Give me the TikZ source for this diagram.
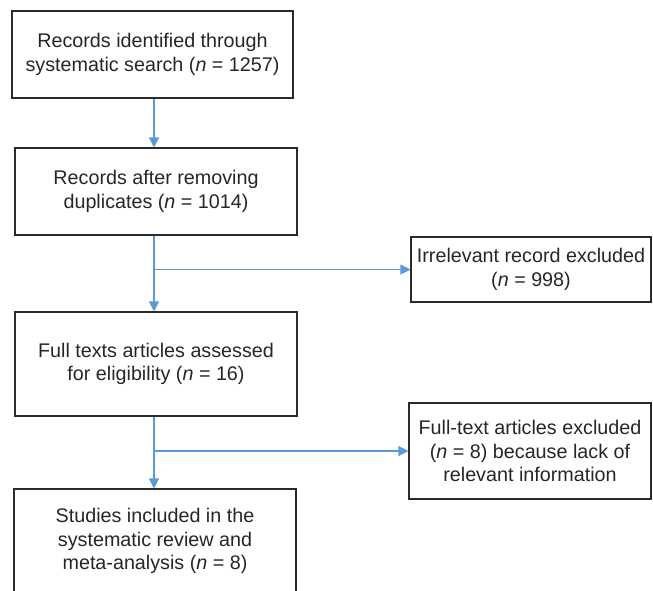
\documentclass[tikz,border=0pt]{standalone}
\usepackage{fontspec}
\setmainfont{Liberation Sans}
\usetikzlibrary{arrows.meta}
\definecolor{arrowblue}{HTML}{5B9BD5}
\definecolor{boxline}{HTML}{2B2B2B}
\begin{document}
\begin{tikzpicture}[x=0.75pt,y=-0.75pt,
  box/.style={draw=boxline, line width=0.8pt, align=center, inner sep=0pt,
    font=\fontsize{14.8}{17.6}\selectfont, text=black!85},
  conn/.style={draw=arrowblue, line width=0.85pt, -{Triangle[length=7.5pt,width=7.5pt]}}]
\useasboundingbox (0,0) rectangle (653,590);
\clip (0,0) rectangle (653,590);
\node[box, minimum width=210.75pt, minimum height=65.25pt] (b1) at (152.5,54.5)
  {Records identified through\\systematic search (\textit{n} = 1257)};
\node[box, minimum width=211.5pt, minimum height=65.25pt] (b2) at (156,191.5)
  {Records after removing\\duplicates (\textit{n} = 1014)};
\node[box, minimum width=180pt, minimum height=48.75pt] (b3) at (531,269.5)
  {Irrelevant record excluded\\(\textit{n} = 998)};
\node[box, minimum width=211.5pt, minimum height=78pt] (b4) at (156,364)
  {Full texts articles assessed\\for eligibility (\textit{n} = 16)};
\node[box, minimum width=181.5pt, minimum height=72pt] (b5) at (530,451)
  {Full-text articles excluded\\(\textit{n} = 8) because lack of\\relevant information};
\node[box, minimum width=211.5pt, minimum height=78pt] (b6) at (155,541)
  {Studies included in the\\systematic review and\\meta-analysis (\textit{n} = 8)};
\coordinate (ax) at (154,0);
\draw[conn] (b1.south -| ax) -- (b2.north -| ax);
\draw[conn] (b2.south -| ax) -- (b4.north -| ax);
\draw[conn] (ax |- b3.west) -- (b3.west);
\draw[conn] (b4.south -| ax) -- (b6.north -| ax);
\draw[conn] (ax |- b5.west) -- (b5.west);
\end{tikzpicture}
\end{document}
